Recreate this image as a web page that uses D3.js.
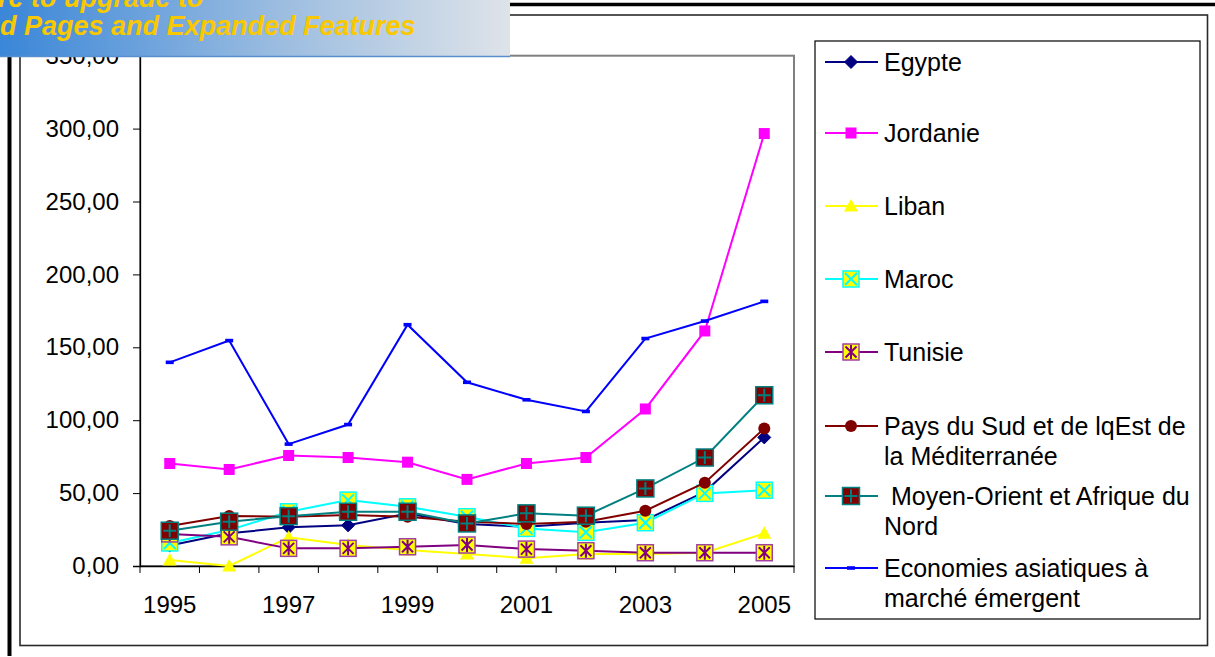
<!DOCTYPE html>
<html><head><meta charset="utf-8">
<script src="https://cdn.jsdelivr.net/npm/d3@7"></script>
<style>body{margin:0;background:#fff;}svg{display:block;font-family:"Liberation Sans",Arial,sans-serif;}</style>
</head><body>
<svg id="c" width="1215" height="657"></svg>
<script>
const years = ["1995","1996","1997","1998","1999","2000","2001","2002","2003","2004","2005"];
const xTickLabels = ["1995","1997","1999","2001","2003","2005"];
const yTicks = [0,50,100,150,200,250,300,350];

const egypte    = [14, 22.4, 26.5, 27.9, 36, 28.8, 26.9, 29.7, 31.5, 50.9, 88.2];
const jordanie  = [70.3, 66.2, 75.8, 74.4, 71.2, 59.4, 70.3, 74.4, 107.7, 161.2, 296.6];
const liban     = [4.1, 0, 19.7, 14.4, 11, 8.2, 5.3, 8.2, 8.2, 9.1, 22.4];
const maroc     = [15.8, 24.7, 37.2, 45.2, 40.6, 33.8, 25.8, 23.1, 29.7, 49.8, 52];
const tunisie   = [22, 20, 12.1, 12.1, 13.2, 14.4, 11.6, 10.5, 9.1, 9.1, 9.1];
const paysSud   = [27.4, 34.3, 33.8, 34.9, 33.8, 30.4, 28.8, 30.4, 37.9, 57.1, 94.3];
const moyenOr   = [24.2, 30.4, 34.2, 37.2, 37.2, 29.2, 36.1, 34.5, 53.2, 74.4, 117.1];
const asiatique = [139.7, 154.6, 83.6, 97, 165.5, 126, 114, 106, 156, 168, 181.5];

const seriesNames = ["Egypte","Jordanie","Liban","Maroc","Tunisie",
  ["Pays du Sud et de lqEst de","la Méditerranée"],
  [" Moyen-Orient et Afrique du","Nord"],
  ["Economies asiatiques à","marché émergent"]];

const series = [
  {name:seriesNames[0], values:egypte,    color:"#000080", marker:"diamond"},
  {name:seriesNames[1], values:jordanie,  color:"#ff00ff", marker:"square"},
  {name:seriesNames[2], values:liban,     color:"#ffff00", marker:"triangle"},
  {name:seriesNames[3], values:maroc,     color:"#00ffff", marker:"xbox"},
  {name:seriesNames[4], values:tunisie,   color:"#800080", marker:"starbox"},
  {name:seriesNames[5], values:paysSud,   color:"#800000", marker:"circle"},
  {name:seriesNames[6], values:moyenOr,   color:"#008080", marker:"plusbox"},
  {name:seriesNames[7], values:asiatique, color:"#0000ff", marker:"dash"}
];

const svg = d3.select("#c");
const FS = 24;
const LFS = 25;

// outer frame
svg.append("rect").attr("x",20).attr("y",15).attr("width",1187.5).attr("height",630.5)
  .attr("fill","none").attr("stroke","#2a2a2a").attr("stroke-width",1.6);
svg.append("line").attr("x1",9.5).attr("x2",9.5).attr("y1",50).attr("y2",656)
  .attr("stroke","#000").attr("stroke-width",4);
svg.append("line").attr("x1",500).attr("x2",1215).attr("y1",4.5).attr("y2",4.5)
  .attr("stroke","#000").attr("stroke-width",3.6);

const plot = {left:140, right:794, top:55.7, bottom:566};
const xBand = d3.scaleBand().domain(years).range([plot.left, plot.right]).padding(0);
const x = d => xBand(d) + xBand.bandwidth()/2;
const y = d3.scaleLinear().domain([0,350]).range([plot.bottom, plot.top]);

// plot area border
svg.append("rect").attr("x",plot.left).attr("y",plot.top).attr("width",plot.right-plot.left)
  .attr("height",plot.bottom-plot.top).attr("fill","none").attr("stroke","#808080").attr("stroke-width",2);

// y axis
const yAxis = d3.axisLeft(y).tickValues(yTicks).tickSize(7).tickPadding(14)
  .tickFormat(d => d3.format(".2f")(d).replace(".",","));
const gy = svg.append("g").attr("transform",`translate(${plot.left},0)`).call(yAxis);
gy.select(".domain").attr("stroke","#000").attr("stroke-width",1.3);
gy.selectAll(".tick line").attr("stroke","#000");
gy.selectAll("text").attr("font-size",FS).attr("font-family","Liberation Sans, Arial, sans-serif").attr("fill","#000");

// x axis
const xAxis = d3.axisBottom(xBand).tickSize(0).tickPadding(30)
  .tickFormat(d => xTickLabels.includes(d) ? d : "");
const gx = svg.append("g").attr("transform",`translate(0,${plot.bottom})`).call(xAxis);
gx.select(".domain").attr("stroke","#000").attr("stroke-width",1.5);
gx.selectAll("text").attr("font-size",FS).attr("font-family","Liberation Sans, Arial, sans-serif").attr("fill","#000");
const edges = years.map(d => xBand(d)).concat([xBand(years[years.length-1]) + xBand.bandwidth()]);
gx.selectAll("line.edge").data(edges).enter().append("line").attr("class","edge")
  .attr("x1",d=>d).attr("x2",d=>d).attr("y1",0).attr("y2",7).attr("stroke","#000").attr("stroke-width",1);

function drawMarker(g, type, color, cx, cy) {
  const m = g.append("g").attr("transform",`translate(${cx},${cy})`);
  if (type==="diamond") {
    m.append("path").attr("d","M0,-6.5L6.5,0L0,6.5L-6.5,0Z").attr("fill",color).attr("stroke",color);
  } else if (type==="square") {
    m.append("rect").attr("x",-5.5).attr("y",-5.5).attr("width",11).attr("height",11).attr("fill",color);
  } else if (type==="triangle") {
    m.append("path").attr("d","M0,-7L7,5.5L-7,5.5Z").attr("fill",color);
  } else if (type==="circle") {
    m.append("circle").attr("r",6).attr("fill",color);
  } else if (type==="dash") {
    m.append("rect").attr("x",-4).attr("y",-1.8).attr("width",8).attr("height",3.6).attr("fill",color);
  } else if (type==="xbox") {
    m.append("rect").attr("x",-8).attr("y",-8).attr("width",16).attr("height",16).attr("fill","#ffff00").attr("stroke",color).attr("stroke-width",1.5);
    m.append("path").attr("d","M-6,-6L6,6M6,-6L-6,6").attr("stroke",color).attr("stroke-width",2);
  } else if (type==="starbox") {
    m.append("rect").attr("x",-8).attr("y",-8).attr("width",16).attr("height",16).attr("fill","#ffff00").attr("stroke","#a040a0").attr("stroke-width",1.5);
    m.append("path").attr("d","M-5.5,-5.5L5.5,5.5M5.5,-5.5L-5.5,5.5M0,-7L0,7").attr("stroke",color).attr("stroke-width",2);
  } else if (type==="plusbox") {
    m.append("rect").attr("x",-8.5).attr("y",-8.5).attr("width",17).attr("height",17).attr("fill","#800000").attr("stroke","#008080").attr("stroke-width",1.5);
    m.append("path").attr("d","M-6.5,0L6.5,0M0,-6.5L0,6.5").attr("stroke","#008080").attr("stroke-width",2);
  }
}

const line = d3.line().x((d,i)=>x(years[i])).y(d=>y(d));
series.forEach(s => {
  const g = svg.append("g");
  g.append("path").attr("d", line(s.values)).attr("fill","none").attr("stroke",s.color).attr("stroke-width",2);
  s.values.forEach((v,i) => drawMarker(g, s.marker, s.color, x(years[i]), y(v)));
});

// legend
svg.append("rect").attr("x",815).attr("y",41).attr("width",385).attr("height",578)
  .attr("fill","#fff").attr("stroke","#000").attr("stroke-width",1.2);
const legendY = [62, 133, 206, 279, 352, 426, 496, 568];
series.forEach((s,i) => {
  const g = svg.append("g");
  const ly = legendY[i];
  g.append("line").attr("x1",825).attr("x2",878).attr("y1",ly).attr("y2",ly).attr("stroke",s.color).attr("stroke-width",2);
  drawMarker(g, s.marker, s.color, 851, ly);
  const lines = Array.isArray(s.name) ? s.name : [s.name];
  const t = g.append("text").attr("x",884).attr("y",ly).attr("font-size",LFS).attr("fill","#000")
    .attr("dominant-baseline","central").attr("xml:space","preserve").style("white-space","pre");
  lines.forEach((l,k) => t.append("tspan").attr("x",884).attr("dy", k===0?0:29.5).text(l));
});

// banner overlay
const defs = svg.append("defs");
const grad = defs.append("linearGradient").attr("id","bg").attr("x1","0").attr("x2","1").attr("y1","0").attr("y2","0");
grad.append("stop").attr("offset","0").attr("stop-color","#3a86d8");
grad.append("stop").attr("offset","0.55").attr("stop-color","#9cbde0");
grad.append("stop").attr("offset","1").attr("stop-color","#dee3e9");
svg.append("rect").attr("x",0).attr("y",0).attr("width",510).attr("height",56).attr("fill","url(#bg)");
svg.append("line").attr("x1",0).attr("x2",510).attr("y1",56.5).attr("y2",56.5).attr("stroke","#5a8fcf").attr("stroke-width",1.5);
svg.append("text").attr("x",-2).attr("y",7).attr("font-size",27).attr("font-weight","bold").attr("font-style","italic")
  .attr("fill","#f9c800").text("re to upgrade to");
svg.append("text").attr("x",0).attr("y",35).attr("font-size",27).attr("font-weight","bold").attr("font-style","italic")
  .attr("fill","#f9c800").text("d Pages and Expanded Features");
</script>
</body></html>
